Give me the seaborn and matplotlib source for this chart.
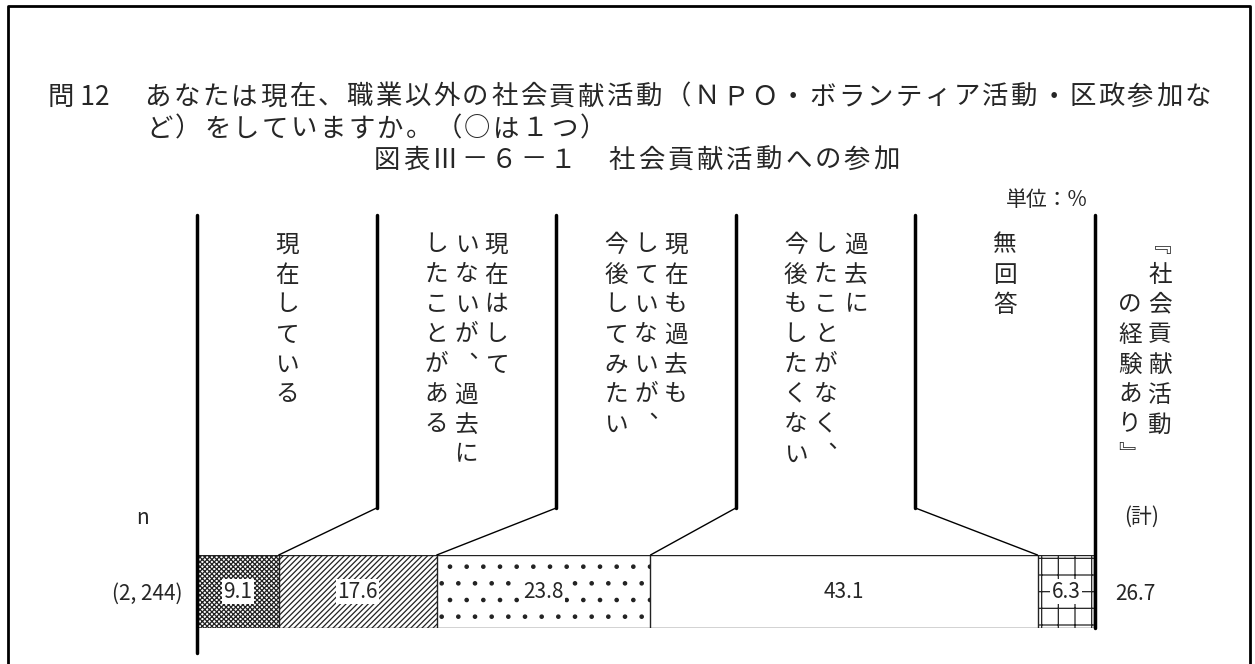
import numpy as np
import matplotlib
matplotlib.use("Agg")
import matplotlib.pyplot as plt
import seaborn as sns

# data
categories = ["現在している",
              "現在はして\nいないが、過去に\nしたことがある",
              "現在も過去も\nしていないが、\n今後してみたい",
              "過去に\nしたことがなく、\n今後もしたくない",
              "無回答"]
values = [9.1, 17.6, 23.8, 43.1, 6.3]
n_label = "(2, 244)"
total_head = "『社会貢献活動\n　　の経験あり』"
total_value = 26.7

title_q = "問 12"
title_lines = ["あなたは現在、職業以外の社会貢献活動（ＮＰＯ・ボランティア活動・区政参加な",
               "ど）をしていますか。（○は１つ）"]
subtitle = "図表Ⅲ－６－１　社会貢献活動への参加"
unit = "単位：%"

hatches = ["xxxxxxx", "//////", ".", "", "+"]

sns.set_theme(style="white")
plt.rcParams["font.family"] = ["Noto Sans CJK JP", "DejaVu Sans"]
plt.rcParams["hatch.linewidth"] = 0.9

W, H = 1255, 664
fig = plt.figure(figsize=(W / 100, H / 100), dpi=100)
fig.patch.set_facecolor("white")

# bar area in pixels
x0, x1 = 197, 1095
ytop, ybot = 555, 628
scale = (x1 - x0) / 100.0

bx = fig.add_axes([x0 / W, (H - ybot) / H, (x1 - x0) / W, (ybot - ytop) / H])
cum = np.cumsum(values)
# stacked bar: draw cumulative totals from longest to shortest
for i in reversed(range(len(values))):
    sns.barplot(x=[cum[i]], y=[""], orient="h", color="white", saturation=1,
                width=1.0, hatch=hatches[i], edgecolor="#222222", linewidth=1,
                errorbar=None, ax=bx)
bx.set_xlim(0, 100)
bx.set_ylim(0.5, -0.5)
bx.axis("off")
for i, v in enumerate(values):
    bx.text(cum[i] - v / 2, 0, f"{v}", ha="center", va="center", fontsize=15,
            bbox=dict(fc="white", ec="none", pad=1))

# overlay in pixel coords
ov = fig.add_axes([0, 0, 1, 1])
ov.set_xlim(0, W)
ov.set_ylim(H, 0)
ov.axis("off")

# frame
ov.plot([8, 8, 1250, 1250], [H, 6, 6, H], color="black", lw=2)

# title
ov.text(48, 97, title_q, ha="left", va="center", fontsize=19)
def draw_row(x, y, s, pitch, size):
    for k, ch in enumerate(s):
        ov.text(x + pitch * (k + 0.5), y, ch, ha="center", va="center", fontsize=size)

draw_row(143, 97, title_lines[0], 28.9, 19)
draw_row(145, 129, title_lines[1], 28.9, 19)
draw_row(372, 160, subtitle, 29.4, 19)
ov.text(1088, 200, unit, ha="right", va="center", fontsize=15)

# header columns and leader lines
colw = (x1 - x0) / len(categories)
ov.plot([x0, x0], [215, 653], color="black", lw=2.5)
ov.plot([x1, x1], [215, ybot], color="black", lw=2.5)
for k in range(1, len(categories)):
    xb = x0 + k * colw
    ov.plot([xb, xb], [215, 508], color="black", lw=2.5)
    ov.plot([xb, x0 + cum[k - 1] * scale], [508, ytop], color="black", lw=1)

vert = {"、": "︑", "『": "﹃", "』": "﹄"}
def draw_vertical(cx, text, pitch=30, y0=245, size=17):
    cols = text.split("\n")
    nc = len(cols)
    for j, line in enumerate(cols):
        x = cx + ((nc - 1) / 2 - j) * pitch
        for r, ch in enumerate(line):
            ov.text(x, y0 + r * pitch, vert.get(ch, ch), ha="center", va="center",
                    fontsize=size)

for i, cat in enumerate(categories):
    draw_vertical(x0 + colw * (i + 0.5), cat)
draw_vertical(1145, total_head)

ov.text(143, 518, "n", ha="center", va="center", fontsize=15)
ov.text(182, 594, n_label, ha="right", va="center", fontsize=15)
ov.text(1142, 517, "(計)", ha="center", va="center", fontsize=15)
ov.text(1135, 594, f"{total_value}", ha="center", va="center", fontsize=15)

fig.savefig("out.png", dpi=100, facecolor="white")
